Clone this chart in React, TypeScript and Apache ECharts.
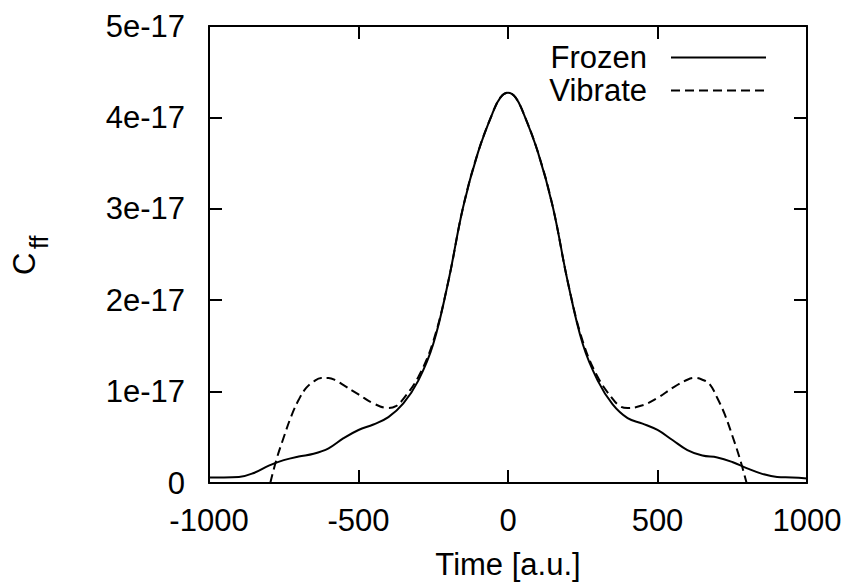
import React, { useEffect, useRef } from "react";
import * as echarts from "echarts";

const frozenX = [-1000, -950, -900, -850, -800, -750, -700, -650, -600, -550, -500, -450, -400, -350, -300, -250, -200, -150, -100, -50, -25, 0, 25, 50, 100, 150, 200, 250, 300, 350, 400, 450, 500, 550, 600, 650, 700, 750, 800, 850, 900, 950, 1000];
const frozenY = [0.06, 0.06, 0.065, 0.11, 0.19, 0.25, 0.29, 0.32, 0.38, 0.49, 0.58, 0.64, 0.72, 0.87, 1.12, 1.52, 2.2, 3.02, 3.62, 4.06, 4.22, 4.27, 4.22, 4.06, 3.62, 3.02, 2.2, 1.52, 1.12, 0.86, 0.71, 0.65, 0.58, 0.47, 0.36, 0.3, 0.28, 0.23, 0.16, 0.1, 0.065, 0.06, 0.05];

const vibrateX = [-795, -775, -750, -725, -700, -675, -650, -625, -600, -575, -550, -500, -450, -400, -375, -350, -300, -250, -200, -150, -100, -50, -25, 0, 25, 50, 100, 150, 200, 250, 300, 350, 375, 400, 450, 500, 550, 600, 625, 650, 675, 700, 725, 750, 775, 798];
const vibrateY = [0, 0.25, 0.5, 0.73, 0.91, 1.04, 1.11, 1.15, 1.15, 1.12, 1.07, 0.97, 0.87, 0.82, 0.84, 0.92, 1.16, 1.55, 2.2, 3.02, 3.62, 4.06, 4.22, 4.27, 4.22, 4.06, 3.62, 3.02, 2.2, 1.55, 1.16, 0.92, 0.84, 0.82, 0.85, 0.93, 1.04, 1.13, 1.15, 1.13, 1.08, 0.93, 0.75, 0.52, 0.27, 0];

const yTickLabels = ["0", "1e-17", "2e-17", "3e-17", "4e-17", "5e-17"];
const seriesNames = ["Frozen", "Vibrate"];
const xAxisTitle = "Time [a.u.]";

const FONT = "Liberation Sans, Arial, Helvetica, sans-serif";

export default function App() {
  const ref = useRef<HTMLDivElement>(null);
  useEffect(() => {
    if (!ref.current) return;
    const chart = echarts.init(ref.current, undefined, { renderer: "svg" });
    const tick = { show: true, inside: true, length: 13, lineStyle: { color: "#000", width: 2 } };
    const line = { show: true, onZero: false, lineStyle: { color: "#000", width: 2 } };
    chart.setOption({
      animation: false,
      backgroundColor: "#fff",
      textStyle: { fontFamily: FONT },
      grid: { left: 209, right: 45, top: 26, bottom: 103, containLabel: false },
      legend: {
        show: true,
        orient: "vertical",
        align: "right",
        right: 85,
        top: 41,
        padding: 0,
        itemGap: 0,
        itemWidth: 95,
        itemHeight: 14,
        itemStyle: { opacity: 0 },
        textStyle: { fontSize: 31, color: "#000", fontFamily: FONT, lineHeight: 33, padding: [0, 19, 0, 0] },
        data: seriesNames,
      },
      xAxis: [
        {
          type: "value",
          min: -1000,
          max: 1000,
          interval: 500,
          axisLine: line,
          axisTick: tick,
          splitLine: { show: false },
          axisLabel: { fontSize: 31, color: "#000", margin: 22, fontFamily: FONT, formatter: (v: number) => String(v) },
          name: xAxisTitle,
          nameLocation: "middle",
          nameGap: 66,
          nameTextStyle: { fontSize: 31, color: "#000", fontFamily: FONT },
        },
        {
          type: "value",
          position: "top",
          min: -1000,
          max: 1000,
          interval: 500,
          axisLine: line,
          axisTick: tick,
          splitLine: { show: false },
          axisLabel: { show: false },
        },
      ],
      yAxis: [
        {
          type: "value",
          min: 0,
          max: 5,
          interval: 1,
          axisLine: line,
          axisTick: tick,
          splitLine: { show: false },
          axisLabel: {
            fontSize: 31,
            color: "#000",
            margin: 24,
            fontFamily: FONT,
            formatter: (v: number) => yTickLabels[Math.round(v)] ?? "",
          },
        },
        {
          type: "value",
          position: "right",
          min: 0,
          max: 5,
          interval: 1,
          axisLine: line,
          axisTick: tick,
          splitLine: { show: false },
          axisLabel: { show: false },
        },
      ],
      graphic: [
        {
          type: "group",
          x: 24,
          y: 275,
          rotation: Math.PI / 2,
          children: [
            {
              type: "text",
              x: 0,
              y: 0,
              style: { text: "C", fontSize: 31, fill: "#000", font: `31px ${FONT}`, textAlign: "left", textVerticalAlign: "middle" },
            },
            {
              type: "text",
              x: 26,
              y: 15,
              style: { text: "ff", fontSize: 25, fill: "#000", font: `25px ${FONT}`, textAlign: "left", textVerticalAlign: "middle" },
            },
          ],
        },
      ],
      series: [
        {
          name: seriesNames[0],
          type: "line",
          data: frozenX.map((x, i) => [x, frozenY[i]]),
          showSymbol: false,
          symbol: "none",
          smooth: 0.4,
          clip: true,
          lineStyle: { color: "#000", width: 2, type: "solid" },
          itemStyle: { color: "#000" },
        },
        {
          name: seriesNames[1],
          type: "line",
          data: vibrateX.map((x, i) => [x, vibrateY[i]]),
          showSymbol: false,
          symbol: "none",
          smooth: 0.4,
          clip: true,
          lineStyle: { color: "#000", width: 2, type: [9, 5] },
          itemStyle: { color: "#000" },
        },
      ],
    });
    return () => chart.dispose();
  }, []);
  return <div ref={ref} style={{ position: "absolute", left: 0, top: 0, width: 852, height: 586 }} />;
}
